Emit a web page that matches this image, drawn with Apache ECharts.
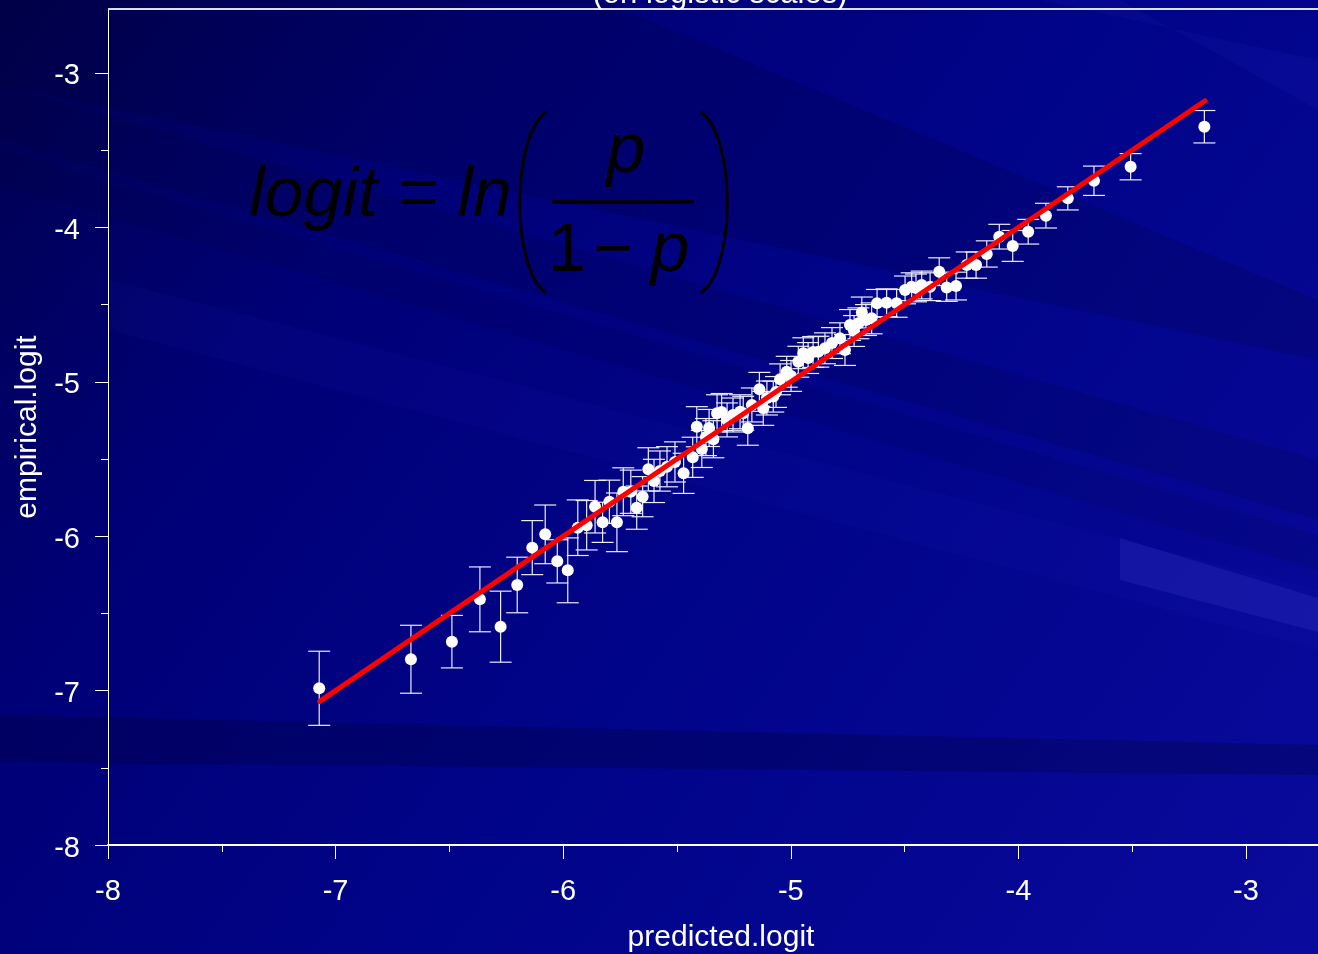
<!DOCTYPE html>
<html>
<head>
<meta charset="utf-8">
<title>predicted vs empirical logit</title>
<script src="https://cdn.jsdelivr.net/npm/echarts@6/dist/echarts.min.js"></script>
<style>
  html, body { margin: 0; padding: 0; background: #000080; }
  #chart { width: 1318px; height: 954px; }
</style>
</head>
<body>
<div id="chart"></div>
<script>
// Model-predicted logit for each group
const predicted = [
  -7.072, -6.669, -6.489, -6.366, -6.275, -6.202, -6.136, -6.079, -6.026, -5.980,
  -5.936, -5.897, -5.860, -5.827, -5.797, -5.764, -5.736, -5.703, -5.677, -5.651,
  -5.626, -5.601, -5.575, -5.544, -5.509, -5.471, -5.431, -5.413, -5.391, -5.373,
  -5.359, -5.340, -5.324, -5.304, -5.280, -5.254, -5.223, -5.209, -5.189, -5.171,
  -5.138, -5.121, -5.105, -5.077, -5.065, -5.047, -5.018, -4.999, -4.967, -4.945,
  -4.924, -4.902, -4.879, -4.850, -4.819, -4.784, -4.762, -4.740, -4.722, -4.703,
  -4.688, -4.670, -4.645, -4.621, -4.579, -4.535, -4.498, -4.469, -4.450, -4.425,
  -4.388, -4.348, -4.315, -4.274, -4.227, -4.186, -4.139, -4.084, -4.025, -3.957,
  -3.879, -3.783, -3.668, -3.507, -3.183
];
// Observed (empirical) logit for the same groups
const empirical = [
  -6.985, -6.797, -6.683, -6.409, -6.586, -6.316, -6.074, -5.988, -6.163, -6.221,
  -5.945, -5.929, -5.809, -5.910, -5.777, -5.910, -5.712, -5.712, -5.815, -5.744,
  -5.567, -5.642, -5.578, -5.550, -5.519, -5.593, -5.489, -5.291, -5.435, -5.358,
  -5.299, -5.372, -5.204, -5.196, -5.247, -5.215, -5.194, -5.204, -5.301, -5.150,
  -5.049, -5.172, -5.105, -5.096, -5.066, -4.984, -4.935, -4.962, -4.870, -4.815,
  -4.846, -4.807, -4.805, -4.783, -4.749, -4.718, -4.794, -4.632, -4.671, -4.621,
  -4.551, -4.600, -4.589, -4.492, -4.488, -4.492, -4.405, -4.384, -4.392, -4.373,
  -4.384, -4.287, -4.389, -4.380, -4.244, -4.244, -4.172, -4.060, -4.120, -4.028,
  -3.924, -3.812, -3.698, -3.607, -3.348
];
// Half-width of each error bar (logit units)
const errHalf = [
  0.24, 0.22, 0.17, 0.21, 0.23, 0.18, 0.175, 0.19, 0.14, 0.21,
  0.18, 0.16, 0.17, 0.13, 0.14, 0.19, 0.155, 0.14, 0.14, 0.13,
  0.14, 0.14, 0.13, 0.13, 0.13, 0.13, 0.13, 0.13, 0.12, 0.12,
  0.12, 0.12, 0.12, 0.12, 0.11, 0.11, 0.11, 0.11, 0.11, 0.11,
  0.11, 0.11, 0.11, 0.10, 0.10, 0.10, 0.10, 0.10, 0.10, 0.10,
  0.10, 0.10, 0.10, 0.10, 0.10, 0.10, 0.10, 0.10, 0.10, 0.10,
  0.10, 0.10, 0.10, 0.09, 0.09, 0.09, 0.09, 0.09, 0.09, 0.09,
  0.09, 0.09, 0.09, 0.09, 0.085, 0.085, 0.085, 0.08, 0.10, 0.08,
  0.08, 0.075, 0.095, 0.085, 0.105
];
// Identity reference line (empirical = predicted) over the predicted range
const lineEnds = [-7.07, -3.18];

// Axis ticks
const xTicks = [-8, -7, -6, -5, -4, -3];
const xMinorTicks = [-7.5, -6.5, -5.5, -4.5, -3.5];
const yTicks = [-8, -7, -6, -5, -4, -3];
const yMinorTicks = [-7.5, -6.5, -5.5, -4.5, -3.5];

const X_MIN = -8, X_MAX = -2.6837;
const Y_MIN = -8, Y_MAX = -2.5855;

const FONT = '"Liberation Sans", Arial, Helvetica, sans-serif';

const pointData = predicted.map((x, i) => [x, empirical[i]]);
const errData = predicted.map((x, i) => [x, empirical[i] - errHalf[i], empirical[i] + errHalf[i]]);
const refLine = lineEnds.map(v => [v, v]);

const chart = echarts.init(document.getElementById('chart'), null, { renderer: 'canvas' });

// Streaky navy backdrop
const bg = [
  {
    type: 'rect', z: -30, silent: true,
    shape: { x: 0, y: 0, width: 1318, height: 954 },
    style: {
      fill: new echarts.graphic.LinearGradient(0, 0, 1, 1, [
        { offset: 0, color: '#00004e' },
        { offset: 0.25, color: '#000076' },
        { offset: 0.55, color: '#000488' },
        { offset: 1, color: '#0a0a9c' }
      ])
    }
  },
  { type: 'polygon', z: -29, silent: true, shape: { points: [[0, 0], [600, 0], [1318, 300], [1318, 360], [0, 85]] }, style: { fill: 'rgba(0,0,40,0.16)' } },
  { type: 'polygon', z: -29, silent: true, shape: { points: [[0, 85], [0, 140], [1318, 520], [1318, 460]] }, style: { fill: 'rgba(0,0,40,0.14)' } },
  { type: 'polygon', z: -29, silent: true, shape: { points: [[0, 150], [0, 185], [1318, 570], [1318, 535]] }, style: { fill: 'rgba(0,0,40,0.10)' } },
  { type: 'polygon', z: -29, silent: true, shape: { points: [[1040, 0], [1120, 0], [1318, 110], [1318, 60]] }, style: { fill: 'rgba(40,40,200,0.12)' } },
  { type: 'polygon', z: -29, silent: true, shape: { points: [[110, 280], [110, 330], [1318, 650], [1318, 590]] }, style: { fill: 'rgba(40,40,210,0.07)' } },
  { type: 'polygon', z: -29, silent: true, shape: { points: [[1120, 538], [1318, 598], [1318, 632], [1120, 580]] }, style: { fill: 'rgba(70,70,210,0.22)' } },
  { type: 'polygon', z: -29, silent: true, shape: { points: [[0, 715], [1318, 745], [1318, 775], [0, 762]] }, style: { fill: 'rgba(0,0,40,0.25)' } }
];

// Formula: logit = ln( p / (1 - p) )
const formula = [
  { type: 'text', z: 5, silent: true, x: 249, y: 197,
    style: { text: 'logit = ln', fill: '#000', font: 'italic 70px ' + FONT, align: 'left', verticalAlign: 'middle' } },
  { type: 'bezierCurve', z: 5, silent: true,
    shape: { x1: 546, y1: 112, cpx1: 511, cpy1: 138, cpx2: 511, cpy2: 268, x2: 546, y2: 293 },
    style: { stroke: '#000', lineWidth: 3, fill: null } },
  { type: 'bezierCurve', z: 5, silent: true,
    shape: { x1: 701, y1: 112, cpx1: 736, cpy1: 138, cpx2: 736, cpy2: 268, x2: 701, y2: 293 },
    style: { stroke: '#000', lineWidth: 3, fill: null } },
  { type: 'text', z: 5, silent: true, x: 626, y: 153,
    style: { text: 'p', fill: '#000', font: 'italic 70px ' + FONT, align: 'center', verticalAlign: 'middle' } },
  { type: 'line', z: 5, silent: true,
    shape: { x1: 552, y1: 202, x2: 694, y2: 202 }, style: { stroke: '#000', lineWidth: 3.5 } },
  { type: 'text', z: 5, silent: true, x: 567, y: 252,
    style: { text: '1', fill: '#000', font: '68px ' + FONT, align: 'center', verticalAlign: 'middle' } },
  { type: 'text', z: 5, silent: true, x: 613, y: 252,
    style: { text: '\u2212', fill: '#000', font: '68px ' + FONT, align: 'center', verticalAlign: 'middle' } },
  { type: 'text', z: 5, silent: true, x: 670, y: 252,
    style: { text: 'p', fill: '#000', font: 'italic 70px ' + FONT, align: 'center', verticalAlign: 'middle' } }
];

// Frame top edge, titles and axis names
const texts = [
  { type: 'line', z: 5, silent: true,
    shape: { x1: 108, y1: 9, x2: 1318, y2: 9 }, style: { stroke: '#dcdcf4', lineWidth: 2 } },
  { type: 'text', z: 5, silent: true, x: 720, y: -6,
    style: { text: '(on logistic scales)', fill: '#fff', font: '31px ' + FONT, align: 'center', verticalAlign: 'middle' } },
  { type: 'text', z: 5, silent: true, x: 721, y: 938,
    style: { text: 'predicted.logit', fill: '#fff', font: '30px ' + FONT, align: 'center', verticalAlign: 'middle' } },
  { type: 'text', z: 5, silent: true, x: 28, y: 427, rotation: Math.PI / 2,
    style: { text: 'empirical.logit', fill: '#fff', font: '30px ' + FONT, align: 'center', verticalAlign: 'middle' } }
];

const axisText = { color: '#fff', fontSize: 29, fontFamily: FONT };

const option = {
  backgroundColor: 'transparent',
  animation: false,
  graphic: { elements: bg.concat(formula, texts) },
  grid: { left: 108, right: 0, top: 9, bottom: 109, show: false },
  xAxis: [
    {
      type: 'value', min: X_MIN, max: X_MAX, position: 'bottom',
      axisLine: { show: true, onZero: false, lineStyle: { color: '#fff', width: 2 } },
      axisTick: { show: true, customValues: xTicks, length: 14, lineStyle: { color: '#fff', width: 1 } },
      axisLabel: { show: true, customValues: xTicks, margin: 32, ...axisText, formatter: v => String(v) },
      splitLine: { show: false }
    },
    {
      type: 'value', min: X_MIN, max: X_MAX, position: 'bottom',
      axisLine: { show: false, onZero: false },
      axisTick: { show: true, customValues: xMinorTicks, length: 7, lineStyle: { color: '#fff', width: 1 } },
      axisLabel: { show: false },
      splitLine: { show: false }
    }
  ],
  yAxis: [
    {
      type: 'value', min: Y_MIN, max: Y_MAX, position: 'left',
      axisLine: { show: true, onZero: false, lineStyle: { color: '#fff', width: 1 } },
      axisTick: { show: true, customValues: yTicks, length: 13, lineStyle: { color: '#fff', width: 1 } },
      axisLabel: {
        show: true, customValues: yTicks, margin: 28, ...axisText,
        formatter: v => '{n|' + v + '}',
        rich: { n: { color: '#fff', fontSize: 29, fontFamily: FONT, padding: [7, 0, 0, 0] } }
      },
      splitLine: { show: false }
    },
    {
      type: 'value', min: Y_MIN, max: Y_MAX, position: 'left',
      axisLine: { show: false, onZero: false },
      axisTick: { show: true, customValues: yMinorTicks, length: 7, lineStyle: { color: '#fff', width: 1 } },
      axisLabel: { show: false },
      splitLine: { show: false }
    }
  ],
  series: [
    {
      type: 'custom',
      name: 'error bars',
      xAxisIndex: 0, yAxisIndex: 0,
      z: 3,
      silent: true,
      data: errData,
      encode: { x: 0, y: [1, 2] },
      renderItem: function (params, api) {
        const x = api.value(0);
        const lo = api.coord([x, api.value(1)]);
        const hi = api.coord([x, api.value(2)]);
        const cap = 11;
        const st = { stroke: '#ececff', lineWidth: 1.2 };
        return {
          type: 'group',
          children: [
            { type: 'line', shape: { x1: hi[0], y1: hi[1], x2: lo[0], y2: lo[1] }, style: st },
            { type: 'line', shape: { x1: hi[0] - cap, y1: hi[1], x2: hi[0] + cap, y2: hi[1] }, style: st },
            { type: 'line', shape: { x1: lo[0] - cap, y1: lo[1], x2: lo[0] + cap, y2: lo[1] }, style: st }
          ]
        };
      }
    },
    {
      type: 'scatter',
      name: 'groups',
      xAxisIndex: 0, yAxisIndex: 0,
      z: 4,
      symbol: 'circle',
      symbolSize: 12,
      itemStyle: { color: '#ffffff', opacity: 1, borderWidth: 0 },
      data: pointData
    },
    {
      type: 'line',
      name: 'identity',
      xAxisIndex: 0, yAxisIndex: 0,
      z: 6,
      symbol: 'none',
      lineStyle: { color: '#ff0000', width: 5, cap: 'round' },
      data: refLine
    }
  ]
};

chart.setOption(option);
</script>
</body>
</html>
